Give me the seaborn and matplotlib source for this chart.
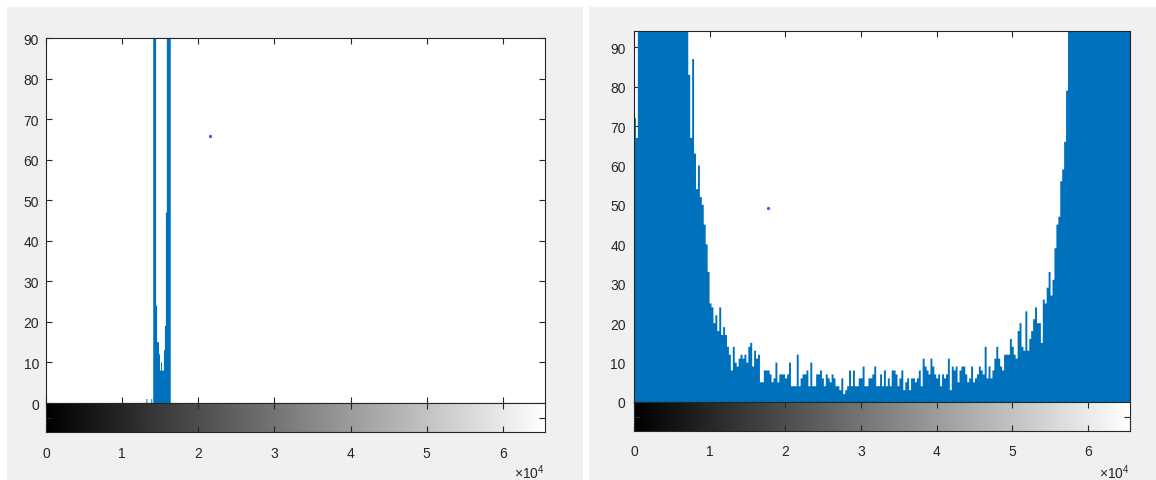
import numpy as np
import pandas as pd
import matplotlib
matplotlib.use('Agg')
import matplotlib.pyplot as plt
from matplotlib.patches import Rectangle
import seaborn as sns

# --- datos ---
# panel derecho: 256 bins sobre 0..65536
right_counts = [
    72, 67,
    420, 460, 430, 400, 370, 340, 310, 290, 270, 250, 230, 210, 195,
    180, 170, 160, 150, 140, 132, 125, 118, 112, 106, 101, 97, 95,
    83, 67, 87, 63, 54, 60, 52, 50, 45, 40, 33, 25, 24, 20, 22, 18,
    24, 17, 19, 17, 14, 12, 8, 14,
    10, 9, 11, 12, 11, 12, 10, 14, 15, 9, 13, 11, 12, 5, 5, 8, 8, 8,
    7, 5, 6, 10, 5, 7, 7, 7, 6, 7, 10, 4, 4, 4, 12, 4, 6, 7, 7, 8,
    4, 10, 4, 4, 7, 7, 8, 6, 4, 7, 6, 5, 7, 6,
    4, 4, 3, 6, 2, 3, 4, 8, 4, 8, 4, 4, 6, 6, 9, 4, 4, 6, 6, 7, 9,
    4, 4, 7, 4, 8, 4, 6, 4, 8, 8, 7, 4, 6, 8, 3, 5, 6, 3, 6, 6, 5,
    6, 8, 4, 11, 9, 8, 7, 11, 9,
    7, 6, 7, 4, 7, 6, 7, 11, 3, 9, 8, 9, 5, 8, 9, 9, 7, 5, 6, 9, 5,
    6, 7, 9, 8, 7, 14, 6, 9, 6, 8, 11, 14, 11, 9, 8, 12, 12, 12, 16,
    14, 12, 11, 18, 20, 14, 13, 23, 13, 16, 18, 21,
    24, 20, 20, 15, 26, 25, 29, 33, 27, 31, 39, 45, 47, 56, 59, 66, 79,
    95, 98, 102, 108, 115, 122, 130, 140, 150, 160, 172, 185, 200, 215,
    230, 250, 270, 290, 310, 335, 360, 385, 410, 440, 470, 500, 530,
    560, 590, 620, 650, 680,
]

# panel izquierdo: 512 bins, solo los bins con cuentas
left_bins = [103, 108, 110, 111, 112, 113, 114, 115, 116, 117, 118, 119,
             120, 121, 122, 123, 124, 125, 126, 127]
left_counts = [1, 1, 300, 320, 280, 24, 15, 15, 12, 8, 10, 8,
               8, 13, 19, 47, 260, 300, 310, 280]

left_point = (21540, 65.9)
right_point = (17750, 49.1)

xticks = [0, 10000, 20000, 30000, 40000, 50000, 60000]
xlabels = ['0', '1', '2', '3', '4', '5', '6']
yticks = [0, 10, 20, 30, 40, 50, 60, 70, 80, 90]

W, H = 1156, 481
azul = '#0072BD'
oscuro = '#262626'

sns.set_theme(style='ticks')
plt.rcParams['font.family'] = ['Liberation Sans', 'DejaVu Sans']
plt.rcParams['mathtext.fontset'] = 'custom'
plt.rcParams['mathtext.rm'] = 'Liberation Sans'

fig = plt.figure(figsize=(W / 100, H / 100), dpi=100, facecolor='white')
fig.patches.append(Rectangle((7 / W, 0), (583 - 7) / W, 1 - 8 / H,
                             transform=fig.transFigure, facecolor='#f0f0f0',
                             edgecolor='none', zorder=-5))
fig.patches.append(Rectangle((589 / W, 0), (W - 589) / W, 1 - 8 / H,
                             transform=fig.transFigure, facecolor='#f0f0f0',
                             edgecolor='none', zorder=-5))


def ejes_px(x0, y0, x1, y1):
    return fig.add_axes([x0 / W, 1 - y1 / H, (x1 - x0) / W, (y1 - y0) / H])


def estilo(ax):
    for s in ax.spines.values():
        s.set_color(oscuro)
        s.set_linewidth(0.8)
        s.set_visible(True)
    ax.set_facecolor('white')


def panel(x0, x1, ytop, yzero, ybar, counts, idx, nbins, ymax, punto, ypad, xpad):
    ax = ejes_px(x0, ytop, x1, yzero)
    edges = np.linspace(0, 65536, nbins + 1)
    centers = (edges[:-1] + edges[1:]) / 2
    df = pd.DataFrame({'nivel': centers[np.array(idx)],
                       'cuenta': np.array(counts, dtype=float)})
    sns.histplot(data=df, x='nivel', weights='cuenta', bins=edges.tolist(),
                 element='step', fill=True, color=azul, alpha=1,
                 linewidth=0, ax=ax)
    ax.plot([punto[0]], [punto[1]], marker='o', ms=1.3, color='#4d4dff',
            linestyle='none', zorder=5)
    ax.set_xlim(0, 65536)
    ax.set_ylim(0, ymax)
    ax.set_xticks(xticks)
    ax.set_xticklabels([])
    ax.set_yticks(yticks)
    ax.set_xlabel('')
    ax.set_ylabel('')
    ax.tick_params(direction='in', top=True, right=True, length=4, width=0.8,
                   color=oscuro, labelcolor=oscuro, labelsize=10)
    ax.tick_params(axis='y', pad=ypad)
    estilo(ax)

    # barra de grises debajo
    cb = ejes_px(x0, yzero, x1, ybar)
    cb.imshow(np.linspace(0, 1, 256)[None, :], cmap='gray', aspect='auto',
              extent=[0, 65536, 0, 1], interpolation='bilinear')
    cb.set_xlim(0, 65536)
    cb.set_ylim(0, 1)
    cb.set_xticks(xticks)
    cb.set_xticklabels(xlabels)
    cb.set_yticks([0.5])
    cb.set_yticklabels([])
    cb.tick_params(direction='in', top=True, right=True, length=4, width=0.8,
                   color=oscuro, labelcolor=oscuro, labelsize=10)
    cb.tick_params(axis='x', pad=xpad)
    cb.grid(False)
    estilo(cb)
    fig.text(x1 / W, 1 - 479 / H, r'$\mathregular{\times10^{4}}$', ha='right',
             va='baseline', fontsize=10, color=oscuro)
    return ax


panel(46, 545, 39.3, 404, 433, left_counts, left_bins, 512, 90,
      left_point, 5, 10)
panel(634, 1130, 31.7, 403, 432, right_counts, list(range(256)), 256, 94.2,
      right_point, 6, 9.5)

fig.savefig('out.png', dpi=100, facecolor=fig.get_facecolor())
